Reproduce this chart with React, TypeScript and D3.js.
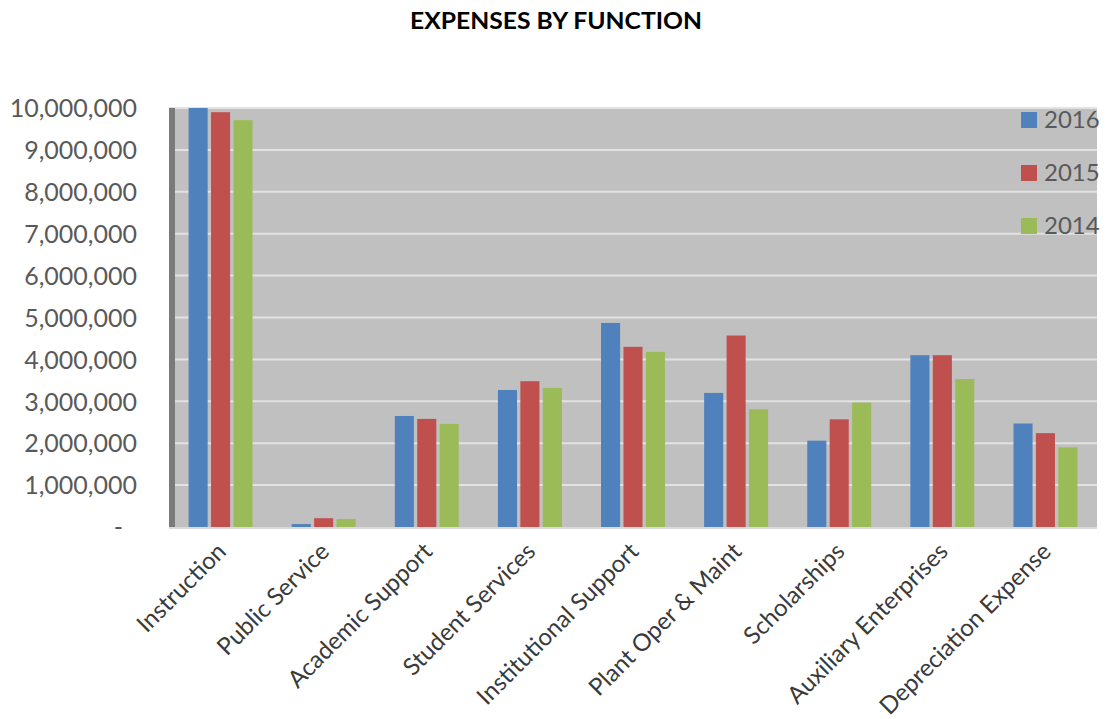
import { useEffect, useRef } from "react";
import * as d3 from "d3";

const categories = [
  "Instruction",
  "Public Service",
  "Academic Support",
  "Student Services",
  "Institutional Support",
  "Plant Oper & Maint",
  "Scholarships",
  "Auxiliary Enterprises",
  "Depreciation Expense",
];
const years = ["2016", "2015", "2014"];
const values2016 = [10000000, 70000, 2650000, 3270000, 4870000, 3200000, 2060000, 4100000, 2470000];
const values2015 = [9900000, 210000, 2580000, 3480000, 4300000, 4570000, 2570000, 4100000, 2240000];
const values2014 = [9710000, 190000, 2460000, 3320000, 4180000, 2810000, 2970000, 3530000, 1900000];
const yTicks = [0, 1000000, 2000000, 3000000, 4000000, 5000000, 6000000, 7000000, 8000000, 9000000, 10000000];
const colors = ["#4f81bd", "#c0504d", "#9bbb59"];

const W = 1107;
const H = 719;
const FONT = "Lato, 'Open Sans', sans-serif";

export default function App() {
  const ref = useRef<SVGSVGElement>(null);

  useEffect(() => {
    document.body.style.margin = "0";
    const svg = d3.select(ref.current);
    svg.selectAll("*").remove();

    const left = 169;
    const right = 1097;
    const top = 108;
    const bottom = 527;

    const x = d3.scaleBand().domain(categories).range([left, right]).paddingInner(0.38).paddingOuter(0.19);
    const xs = d3.scaleBand().domain(years).range([0, x.bandwidth()]).paddingInner(0.15);
    const y = d3.scaleLinear().domain([0, 10000000]).range([bottom, top]);

    svg.append("rect").attr("width", W).attr("height", H).attr("fill", "#ffffff");

    // title
    svg
      .append("text")
      .attr("x", 556)
      .attr("y", 29)
      .attr("text-anchor", "middle")
      .attr("textLength", 292)
      .attr("lengthAdjust", "spacingAndGlyphs")
      .style("font-family", FONT)
      .style("font-weight", "bold")
      .style("font-size", "23px")
      .attr("fill", "#000")
      .text("EXPENSES BY FUNCTION");

    // plot background
    svg
      .append("rect")
      .attr("x", left)
      .attr("y", top)
      .attr("width", right - left)
      .attr("height", bottom - top)
      .attr("fill", "#c0c0c0");

    // gridlines
    svg
      .append("g")
      .selectAll("line")
      .data(yTicks.filter((d) => d > 0))
      .enter()
      .append("line")
      .attr("x1", left)
      .attr("x2", right)
      .attr("y1", (d) => y(d))
      .attr("y2", (d) => y(d))
      .attr("stroke", "#e2e2e2")
      .attr("stroke-width", 2);

    // bottom edge
    svg
      .append("line")
      .attr("x1", left)
      .attr("x2", right)
      .attr("y1", bottom + 1)
      .attr("y2", bottom + 1)
      .attr("stroke", "#dadada")
      .attr("stroke-width", 2);

    // dark left wall
    svg
      .append("rect")
      .attr("x", left)
      .attr("y", top)
      .attr("width", 6)
      .attr("height", bottom - top)
      .attr("fill", "#7a7a7a");

    // bars
    const series = [values2016, values2015, values2014];
    const groups = svg
      .append("g")
      .selectAll("g")
      .data(categories)
      .enter()
      .append("g")
      .attr("transform", (d) => `translate(${x(d)},0)`);

    groups
      .selectAll("rect")
      .data((_, i) => years.map((yr, k) => ({ yr, v: series[k][i], k })))
      .enter()
      .append("rect")
      .attr("x", (d) => xs(d.yr)!)
      .attr("width", xs.bandwidth())
      .attr("y", (d) => y(d.v))
      .attr("height", (d) => bottom - y(d.v))
      .attr("fill", (d) => colors[d.k]);

    // y axis
    const yAxis = svg
      .append("g")
      .attr("transform", `translate(${left - 32},0)`)
      .call(
        d3
          .axisLeft(y)
          .tickValues(yTicks)
          .tickSize(0)
          .tickPadding(0)
          .tickFormat((d) => ((d as number) === 0 ? "-" : d3.format(",")(d as number)))
      );
    yAxis.select(".domain").remove();
    yAxis
      .selectAll("text")
      .style("font-family", FONT)
      .style("font-size", "25px")
      .attr("fill", "#595959")
      .attr("dy", "0.35em")
      .attr("dx", (d) => ((d as number) === 0 ? -14 : 0));

    // x axis
    const xAxis = svg
      .append("g")
      .attr("transform", `translate(0,${bottom})`)
      .call(d3.axisBottom(x).tickSize(0).tickPadding(0));
    xAxis.select(".domain").remove();
    xAxis
      .selectAll("text")
      .style("font-family", FONT)
      .style("font-size", "24px")
      .attr("fill", "#3a3a3a")
      .attr("text-anchor", "end")
      .attr("dy", 0)
      .attr("y", 0)
      .attr("transform", "translate(7,26) rotate(-45)");

    // legend
    const legend = svg
      .append("g")
      .selectAll("g")
      .data(years)
      .enter()
      .append("g")
      .attr("transform", (_, i) => `translate(1021,${112 + i * 53})`);
    legend
      .append("rect")
      .attr("width", 16)
      .attr("height", 16)
      .attr("fill", (_, i) => colors[i]);
    legend
      .append("text")
      .attr("x", 23)
      .attr("y", 8)
      .attr("dy", "0.35em")
      .style("font-family", FONT)
      .style("font-size", "24px")
      .attr("fill", "#595959")
      .text((d) => d);
  }, []);

  return <svg ref={ref} width={W} height={H} style={{ display: "block" }} />;
}
